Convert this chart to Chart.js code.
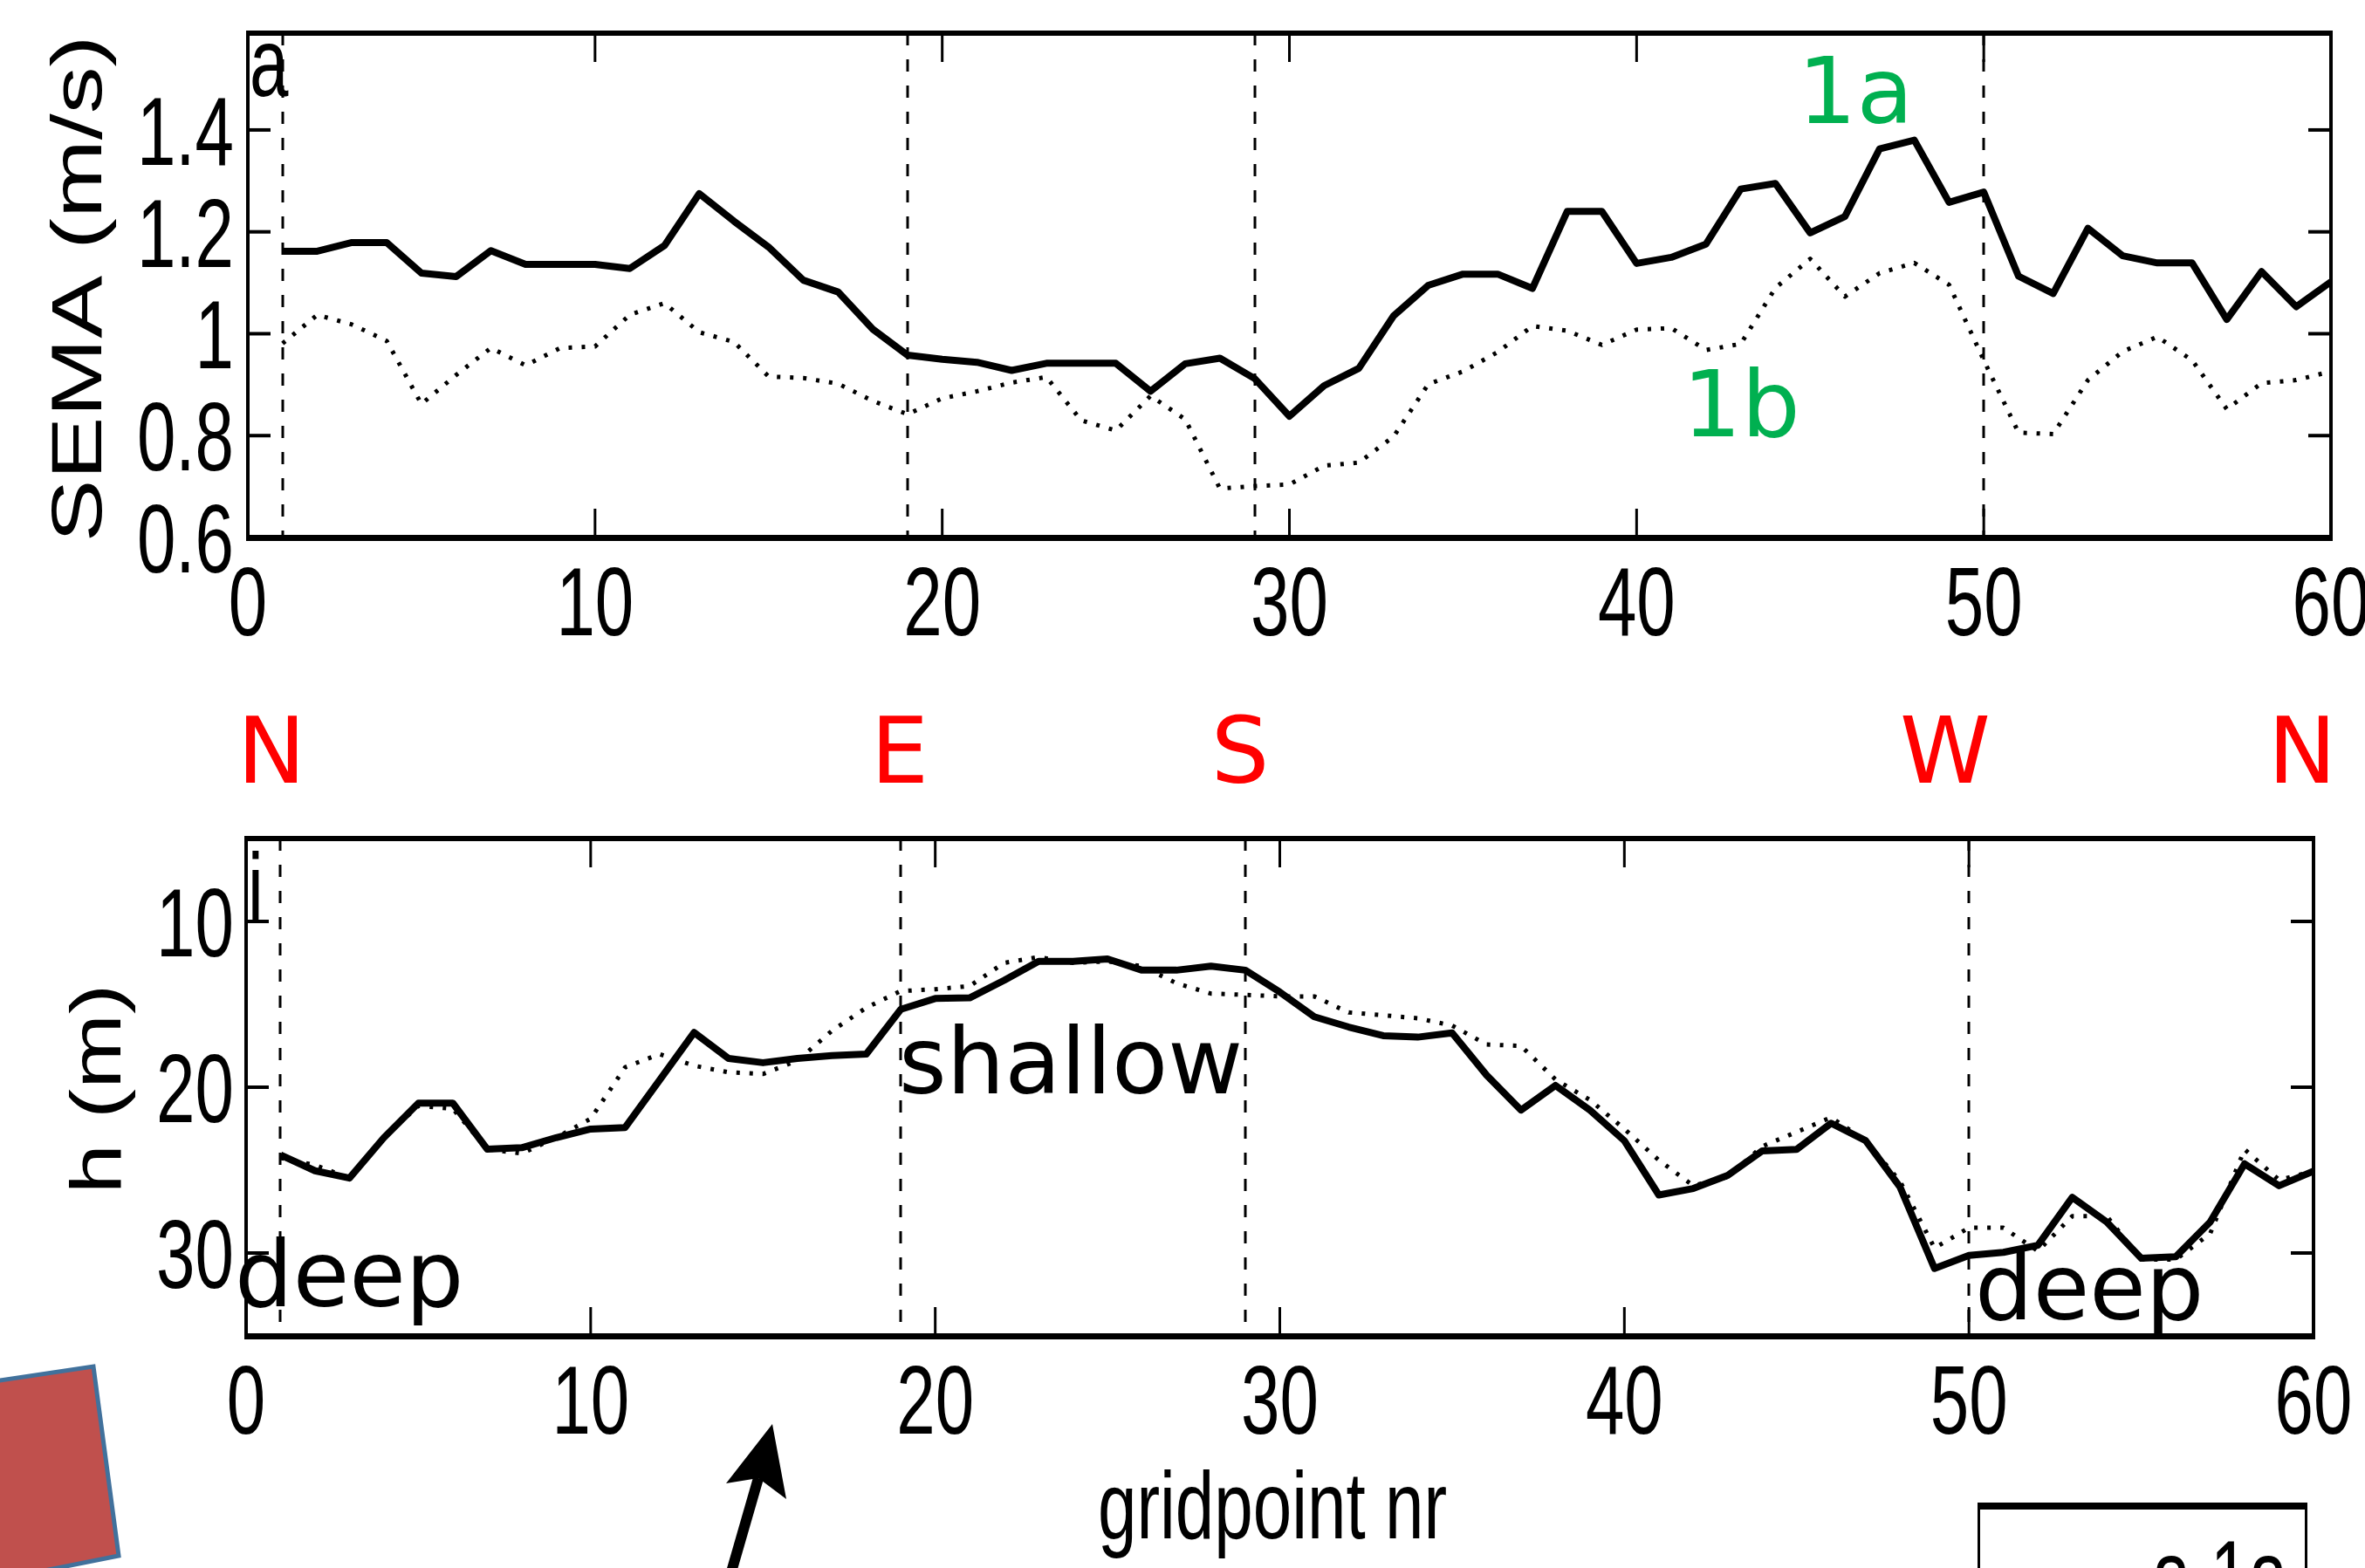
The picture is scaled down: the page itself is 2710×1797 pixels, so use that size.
<!DOCTYPE html>
<html>
<head>
<meta charset="utf-8">
<script src="https://cdn.jsdelivr.net/npm/chart.js@4.4.1/dist/chart.umd.min.js"></script>
<style>
  html, body { margin: 0; padding: 0; background: #fff; }
  #wrap { position: relative; width: 2710px; height: 1797px; overflow: hidden; background: #fff; }
  #wrap canvas { position: absolute; left: 0; top: 0; }
</style>
</head>
<body>
<div id="wrap">
  <canvas id="semaChart" width="2710" height="1797"></canvas>
  <canvas id="depthChart" width="2710" height="1797"></canvas>
</div>
<script>
// gridpoints along the contour
const gridpoints = [1, 2, 3, 4, 5, 6, 7, 8, 9, 10, 11, 12, 13, 14, 15, 16, 17, 18, 19, 20,
  21, 22, 23, 24, 25, 26, 27, 28, 29, 30, 31, 32, 33, 34, 35, 36, 37, 38, 39, 40,
  41, 42, 43, 44, 45, 46, 47, 48, 49, 50, 51, 52, 53, 54, 55, 56, 57, 58, 59, 60];

// SEMA (m/s), run 1a (solid) and 1b (dotted)
const sema1a = [1.162, 1.162, 1.179, 1.179, 1.119, 1.112, 1.163, 1.136, 1.136, 1.136,
  1.128, 1.173, 1.275, 1.221, 1.170, 1.105, 1.082, 1.009, 0.958, 0.950,
  0.944, 0.928, 0.942, 0.942, 0.942, 0.887, 0.941, 0.952, 0.912, 0.838,
  0.898, 0.932, 1.035, 1.095, 1.117, 1.117, 1.089, 1.240, 1.240, 1.138,
  1.150, 1.176, 1.284, 1.295, 1.198, 1.230, 1.363, 1.380, 1.258, 1.278,
  1.113, 1.079, 1.207, 1.153, 1.139, 1.139, 1.028, 1.122, 1.053, 1.102];
const sema1b = [0.981, 1.037, 1.018, 0.986, 0.862, 0.919, 0.972, 0.938, 0.972, 0.975,
  1.037, 1.060, 1.003, 0.984, 0.916, 0.913, 0.902, 0.868, 0.842, 0.873,
  0.887, 0.904, 0.915, 0.830, 0.810, 0.878, 0.832, 0.696, 0.701, 0.704,
  0.741, 0.747, 0.798, 0.901, 0.926, 0.964, 1.015, 1.006, 0.978, 1.008,
  1.011, 0.968, 0.980, 1.090, 1.147, 1.073, 1.119, 1.139, 1.096, 0.948,
  0.806, 0.803, 0.909, 0.965, 0.994, 0.948, 0.852, 0.903, 0.909, 0.926];

// depth h (m), solid and dotted
const depthSolid = [24.09, 25.04, 25.48, 23.04, 20.96, 20.96, 23.74, 23.65, 23.04, 22.52,
  22.43, 19.57, 16.70, 18.26, 18.52, 18.26, 18.09, 18.00, 15.30, 14.65,
  14.61, 13.55, 12.41, 12.41, 12.26, 12.94, 12.94, 12.70, 12.94, 14.26,
  15.75, 16.37, 16.89, 16.98, 16.72, 19.27, 21.38, 19.89, 21.38, 23.23,
  26.50, 26.11, 25.32, 23.84, 23.75, 22.17, 23.22, 26.02, 30.93, 30.14,
  29.96, 29.53, 26.64, 28.13, 30.32, 30.23, 28.13, 24.62, 25.94, 25.06];
const depthDotted = [24.26, 24.70, 25.48, 23.04, 21.13, 21.30, 23.74, 24.00, 23.04, 21.90,
  18.80, 18.00, 18.70, 19.10, 19.20, 18.40, 16.60, 15.20, 14.20, 14.09,
  13.90, 12.50, 12.15, 12.50, 12.41, 12.70, 13.73, 14.35, 14.43, 14.52,
  14.52, 15.49, 15.66, 15.84, 16.28, 17.42, 17.51, 19.53, 20.77, 22.52,
  24.40, 25.94, 25.41, 23.57, 22.70, 21.82, 23.22, 25.67, 29.70, 28.48,
  28.48, 29.88, 27.78, 27.78, 30.40, 30.40, 28.83, 23.75, 25.59, 25.06];

// axes
const xTicks = [0, 10, 20, 30, 40, 50, 60];
const semaTicks = [0.6, 0.8, 1, 1.2, 1.4];
const semaTickLabels = ['0.6', '0.8', '1', '1.2', '1.4'];
const depthTicks = [10, 20, 30];
const depthTickLabels = ['10', '20', '30'];
const sectionBreaks = [1, 19, 29, 50];   // dashed lines
const compassLabels = ['N', 'E', 'S', 'W', 'N'];

const TICK_FONT = '111px "Liberation Sans", Arial, sans-serif';
const SQUISH = 0.72;

function squishText(ctx, text, x, y, align, font, sx) {
    ctx.save();
    ctx.font = font;
    ctx.textAlign = align;
    ctx.textBaseline = 'alphabetic';
    ctx.translate(x, y);
    ctx.scale(sx, 1);
    ctx.fillText(text, 0, 0);
    ctx.restore();
}

function fitText(ctx, text, cx, y, width, font) {
    ctx.save();
    ctx.font = font;
    const w = ctx.measureText(text).width;
    ctx.textAlign = 'center';
    ctx.translate(cx, y);
    ctx.scale(width / w, 1);
    ctx.fillText(text, 0, 0);
    ctx.restore();
}

function rotatedTitle(ctx, text, baseX, centerY, length) {
    ctx.save();
    ctx.font = '81px "Liberation Sans", Arial, sans-serif';
    const w = ctx.measureText(text).width;
    ctx.translate(baseX, centerY);
    ctx.rotate(-Math.PI / 2);
    ctx.scale(length / w, 1);
    ctx.textAlign = 'center';
    ctx.textBaseline = 'alphabetic';
    ctx.fillStyle = '#000';
    ctx.fillText(text, 0, 0);
    ctx.restore();
}

// frame, inner ticks, tick labels, section lines
const figurePlugin = {
    id: 'figure',
    beforeDatasetsDraw(chart, args, o) {
        const { ctx, chartArea: a, scales: { x } } = chart;
        ctx.save();
        ctx.strokeStyle = '#000';
        ctx.lineWidth = 3;
        ctx.setLineDash([14, 16]);
        o.breaks.forEach(g => {
            const px = Math.round(x.getPixelForValue(g));
            ctx.beginPath();
            ctx.moveTo(px, a.top);
            ctx.lineTo(px, a.bottom);
            ctx.stroke();
        });
        ctx.restore();
    },
    afterDatasetsDraw(chart, args, o) {
        const { ctx, chartArea: a, scales: { x, y } } = chart;
        ctx.save();
        ctx.fillStyle = '#000';

        // ticks (inside)
        o.xTicks.forEach(v => {
            const px = x.getPixelForValue(v);
            ctx.fillRect(px - 1.5, a.top, 3, 33);
            ctx.fillRect(px - 1.5, a.bottom - 33, 3, 33);
        });
        o.yTicks.forEach(v => {
            const py = y.getPixelForValue(v);
            ctx.fillRect(a.left, py - 2, 26, 4);
            ctx.fillRect(a.right - 26, py - 2, 26, 4);
        });

        // frame
        ctx.fillRect(a.left - 2, a.top - 3, a.right - a.left + 4, 6);
        ctx.fillRect(a.left - 2, a.bottom - 3, a.right - a.left + 4, 7);
        ctx.fillRect(a.left - 2, a.top, 4, a.bottom - a.top);
        ctx.fillRect(a.right - 2, a.top, 4, a.bottom - a.top);

        // tick labels
        o.xTicks.forEach(v => {
            squishText(ctx, String(v), x.getPixelForValue(v), a.bottom + 112, 'center', TICK_FONT, SQUISH);
        });
        o.yTicks.forEach((v, i) => {
            squishText(ctx, o.yLabels[i], 268, y.getPixelForValue(v) + 40, 'right', TICK_FONT, SQUISH);
        });

        // panel letter
        squishText(ctx, o.letter, a.left + 2, o.letterY, 'left', TICK_FONT, SQUISH);

        // y title
        rotatedTitle(ctx, o.yTitle, o.titleX, o.titleY, o.titleLen);
        ctx.restore();
    }
};

// free annotations of the slide
const notesPlugin = {
    id: 'notes',
    afterDraw(chart) {
        const ctx = chart.ctx;
        ctx.save();
        ctx.textBaseline = 'alphabetic';

        // compass points
        ctx.fillStyle = '#FF0000';
        ctx.font = '105px "DejaVu Sans", Verdana, sans-serif';
        ctx.textAlign = 'center';
        const compassX = [311, 1031, 1421, 2229, 2638];
        compassLabels.forEach((t, i) => ctx.fillText(t, compassX[i], 897));

        // run names
        ctx.fillStyle = '#00B050';
        ctx.textAlign = 'left';
        ctx.font = '106px "DejaVu Sans", Verdana, sans-serif';
        ctx.fillText('1a', 2060, 141);
        ctx.fillText('1b', 1928, 500);

        // shallow / deep
        ctx.fillStyle = '#000';
        ctx.font = '105px "DejaVu Sans", Verdana, sans-serif';
        ctx.fillText('shallow', 1030, 1253);
        ctx.fillText('deep', 269, 1497);
        ctx.fillText('deep', 2263, 1512);

        // x title
        fitText(ctx, 'gridpoint nr', 1458, 1763, 400, '109px "Liberation Sans", Arial, sans-serif');

        // red block at the corner
        ctx.beginPath();
        ctx.moveTo(-120, 1600);
        ctx.lineTo(107, 1566);
        ctx.lineTo(136, 1783);
        ctx.lineTo(-100, 1830);
        ctx.closePath();
        ctx.fillStyle = '#C0504D';
        ctx.fill();
        ctx.lineWidth = 5;
        ctx.strokeStyle = '#41719C';
        ctx.stroke();

        // arrow
        ctx.strokeStyle = '#000';
        ctx.lineWidth = 12;
        ctx.beginPath();
        ctx.moveTo(837, 1805);
        ctx.lineTo(869, 1694);
        ctx.stroke();
        ctx.beginPath();
        ctx.moveTo(885, 1632);
        ctx.lineTo(901, 1718);
        ctx.lineTo(869, 1694);
        ctx.lineTo(832, 1700);
        ctx.closePath();
        ctx.fillStyle = '#000';
        ctx.fill();

        // legend box (cut off at the bottom)
        ctx.fillStyle = '#fff';
        ctx.fillRect(2268, 1726, 374, 90);
        ctx.fillStyle = '#000';
        ctx.fillRect(2266, 1722, 378, 8);
        ctx.fillRect(2266, 1722, 3, 90);
        ctx.fillRect(2641, 1722, 3, 90);
        squishText(ctx, 'a 1a', 2466, 1843, 'left', TICK_FONT, SQUISH);
        ctx.restore();
    }
};

function lineSet(label, values, dotted) {
    return {
        label: label,
        data: gridpoints.map((g, i) => ({ x: g, y: values[i] })),
        borderColor: '#000',
        borderWidth: dotted ? 5 : 8,
        borderDash: dotted ? [4, 11] : [],
        borderCapStyle: 'butt',
        borderJoinStyle: 'round',
        pointRadius: 0,
        tension: 0,
        fill: false
    };
}

function baseOptions(padding, yScale, fig) {
    return {
        responsive: false,
        animation: false,
        devicePixelRatio: 1,
        events: [],
        layout: { padding: padding },
        plugins: {
            legend: { display: false },
            tooltip: { enabled: false },
            figure: fig
        },
        scales: {
            x: { type: 'linear', min: 0, max: 60, display: false },
            y: yScale
        }
    };
}

new Chart(document.getElementById('semaChart'), {
    type: 'line',
    data: { datasets: [lineSet('1a', sema1a, false), lineSet('1b', sema1b, true)] },
    options: baseOptions(
        { left: 284, top: 38, right: 39, bottom: 1181 },
        { type: 'linear', min: 0.6, max: 1.59, display: false },
        {
            breaks: sectionBreaks, xTicks: xTicks, yTicks: semaTicks, yLabels: semaTickLabels,
            letter: 'a', letterY: 110, yTitle: 'SEMA (m/s)', titleX: 116, titleY: 331, titleLen: 581
        }
    ),
    plugins: [figurePlugin]
});

new Chart(document.getElementById('depthChart'), {
    type: 'line',
    data: { datasets: [lineSet('solid', depthSolid, false), lineSet('dotted', depthDotted, true)] },
    options: baseOptions(
        { left: 282, top: 961, right: 59, bottom: 266 },
        { type: 'linear', min: 5, max: 35, reverse: true, display: false },
        {
            breaks: sectionBreaks, xTicks: xTicks, yTicks: depthTicks, yLabels: depthTickLabels,
            letter: 'i', letterY: 1056, yTitle: 'h (m)', titleX: 138, titleY: 1248, titleLen: 241
        }
    ),
    plugins: [figurePlugin, notesPlugin]
});
</script>
</body>
</html>
